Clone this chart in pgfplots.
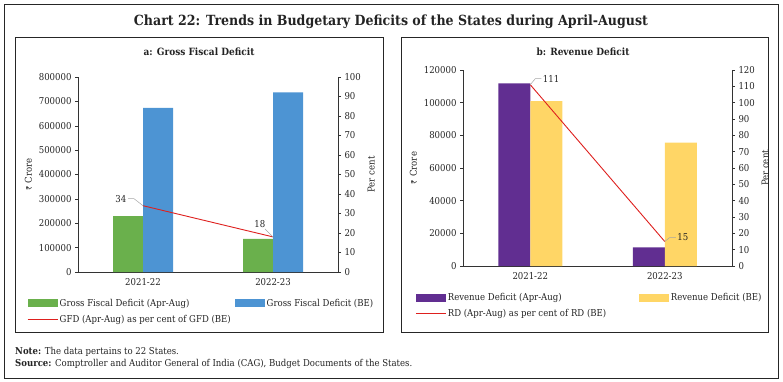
\documentclass[border=0pt]{standalone}
\usepackage{pgfplots}
\pgfplotsset{compat=1.18}
\usepackage{fontspec}
\setmainfont{DejaVu Serif Condensed}
\newfontfamily\rupeefont{Noto Sans}

\definecolor{cgreen}{RGB}{106,176,76}
\definecolor{cblue}{RGB}{77,148,211}
\definecolor{cpurple}{RGB}{97,46,145}
\definecolor{cyellow}{RGB}{255,214,102}
\definecolor{cred}{RGB}{222,32,30}
\definecolor{ctext}{RGB}{35,35,35}

\pgfplotsset{
  base/.style={
    scale only axis, anchor=south west,
    xmin=-0.5, xmax=1.5,
    /pgf/number format/assume math mode=true,
    /pgf/number format/fixed,
    /pgf/number format/precision=0,
    /pgf/number format/1000 sep={},
    scaled y ticks=false,
    tick label style={font=\fontsize{9.5}{11}\selectfont, text=ctext},
    label style={font=\fontsize{9.5}{11}\selectfont, text=ctext},
    axis line style={draw=black!80, line width=0.6pt},
    tick style={draw=black!80, line width=0.5pt},
    tick align=outside,
    major tick length=3pt,
  },
  barleg/.style={legend image code/.code={\fill[##1] (0pt,-4pt) rectangle (30pt,4pt);}},
  lineleg/.style={legend image code/.code={\draw[##1] (0pt,0pt) -- (30pt,0pt);}},
}

\begin{document}
\begin{tikzpicture}[x=1pt,y=1pt]
\useasboundingbox (0,0) rectangle (783,381);
% outer frame
\draw[line width=0.6pt, black!85] (4,3) rectangle (778,377);
\node[font=\fontsize{14}{16}\selectfont\bfseries, text=ctext] at (391,359) {Chart 22: Trends in Budgetary Deficits of the States during April-August};
% panel frames
\draw[line width=0.6pt, black!85] (15,49) rectangle (383,344);
\draw[line width=0.6pt, black!85] (401,49) rectangle (768,344);
\node[font=\fontsize{10}{12}\selectfont\bfseries, text=ctext] at (199,329) {a: Gross Fiscal Deficit};
\node[font=\fontsize{10}{12}\selectfont\bfseries, text=ctext] at (583,329) {b: Revenue Deficit};

% ---------- Panel a ----------
\begin{axis}[base, at={(78pt,109pt)}, width=260pt, height=195pt,
  ymin=0, ymax=800000, ytick={0,100000,...,800000},
  axis y line*=left, axis x line*=bottom,
  xtick={0,1}, xticklabels={2021-22,2022-23}, x tick style={draw=none},
  ybar=0pt, bar width=30pt,
  ylabel={{\rupeefont\fontsize{8}{9}\selectfont ₹} Crore},
  legend columns=2,
  legend style={at={(-0.196,-0.13)}, anchor=north west, draw=none, fill=none,
    font=\fontsize{9.5}{11}\selectfont, inner sep=0pt, row sep=4.5pt,
    nodes={inner sep=1.5pt, text=ctext}},
  legend cell align=left,
]
\addplot[fill=cgreen, draw=none, barleg] coordinates {(0,229000) (1,136000)};
\addlegendentry{\makebox[174pt][l]{Gross Fiscal Deficit (Apr-Aug)}}
\addplot[fill=cblue, draw=none, barleg] coordinates {(0,673000) (1,737000)};
\addlegendentry{Gross Fiscal Deficit (BE)}
\addlegendimage{cred, line width=1pt, lineleg}
\addlegendentry{GFD (Apr-Aug) as per cent of GFD (BE)}
\end{axis}
\begin{axis}[base, at={(78pt,109pt)}, width=260pt, height=195pt,
  ymin=0, ymax=100, ytick={0,10,...,100},
  axis y line*=right, axis x line=none,
  ylabel={Per cent},
  clip=false,
]
\addplot[cred, line width=0.9pt] coordinates {(0,34) (1,18)};
\draw[gray!70, line width=0.5pt] (axis cs:0,34) -- ++(-9pt,7pt) -- ++(-6pt,0pt);
\node[anchor=east, font=\fontsize{9.5}{11}\selectfont, text=ctext, inner sep=1.5pt] at ([xshift=-15pt,yshift=7pt]axis cs:0,34) {34};
\draw[gray!70, line width=0.5pt] (axis cs:1,18) -- ++(-8pt,8pt);
\node[anchor=south east, font=\fontsize{9.5}{11}\selectfont, text=ctext, inner sep=1.5pt] at ([xshift=-6pt,yshift=8pt]axis cs:1,18) {18};
\end{axis}

% ---------- Panel b ----------
\begin{axis}[base, at={(463pt,115pt)}, width=269pt, height=196pt,
  ymin=0, ymax=120000, ytick={0,20000,...,120000},
  axis y line*=left, axis x line*=bottom,
  xtick={0,1}, xticklabels={2021-22,2022-23}, major x tick style={draw=none},
  extra x ticks={-0.5,0.5,1.5}, extra x tick labels={}, extra x tick style={major tick length=4pt, tick style={draw=black!80}},
  ybar=0pt, bar width=32pt,
  ylabel={{\rupeefont\fontsize{8}{9}\selectfont ₹} Crore},
  legend columns=2,
  legend style={at={(-0.178,-0.13)}, anchor=north west, draw=none, fill=none,
    font=\fontsize{9.5}{11}\selectfont, inner sep=0pt, row sep=4.5pt,
    nodes={inner sep=1.5pt, text=ctext}},
  legend cell align=left,
]
\addplot[fill=cpurple, draw=none, barleg] coordinates {(0,111800) (1,11400)};
\addlegendentry{\makebox[190pt][l]{Revenue Deficit (Apr-Aug)}}
\addplot[fill=cyellow, draw=none, barleg] coordinates {(0,101000) (1,75500)};
\addlegendentry{Revenue Deficit (BE)}
\addlegendimage{cred, line width=1pt, lineleg}
\addlegendentry{RD (Apr-Aug) as per cent of RD (BE)}
\end{axis}
\begin{axis}[base, at={(463pt,115pt)}, width=269pt, height=196pt,
  ymin=0, ymax=120, ytick={0,10,...,120},
  axis y line*=right, axis x line=none,
  ylabel={Per cent},
  clip=false,
]
\addplot[cred, line width=0.9pt] coordinates {(0,111) (1,15)};
\draw[gray!70, line width=0.5pt] (axis cs:0,111) -- ++(5pt,6pt) -- ++(6pt,0pt);
\node[anchor=west, font=\fontsize{9.5}{11}\selectfont, text=ctext, inner sep=1.5pt] at ([xshift=11pt,yshift=6pt]axis cs:0,111) {111};
\draw[gray!70, line width=0.5pt] (axis cs:1,15) -- ++(5pt,4pt) -- ++(6pt,0pt);
\node[anchor=west, font=\fontsize{9.5}{11}\selectfont, text=ctext, inner sep=1.5pt] at ([xshift=11pt,yshift=4pt]axis cs:1,15) {15};
\end{axis}

% notes
\node[anchor=west, font=\fontsize{9.5}{10}\selectfont, text=ctext, inner sep=0pt] at (15,29) {\textbf{Note:} The data pertains to 22 States.};
\node[anchor=west, font=\fontsize{9.5}{10}\selectfont, text=ctext, inner sep=0pt] at (15,17.5) {\textbf{Source:} Comptroller and Auditor General of India (CAG), Budget Documents of the States.};
\end{tikzpicture}
\end{document}
